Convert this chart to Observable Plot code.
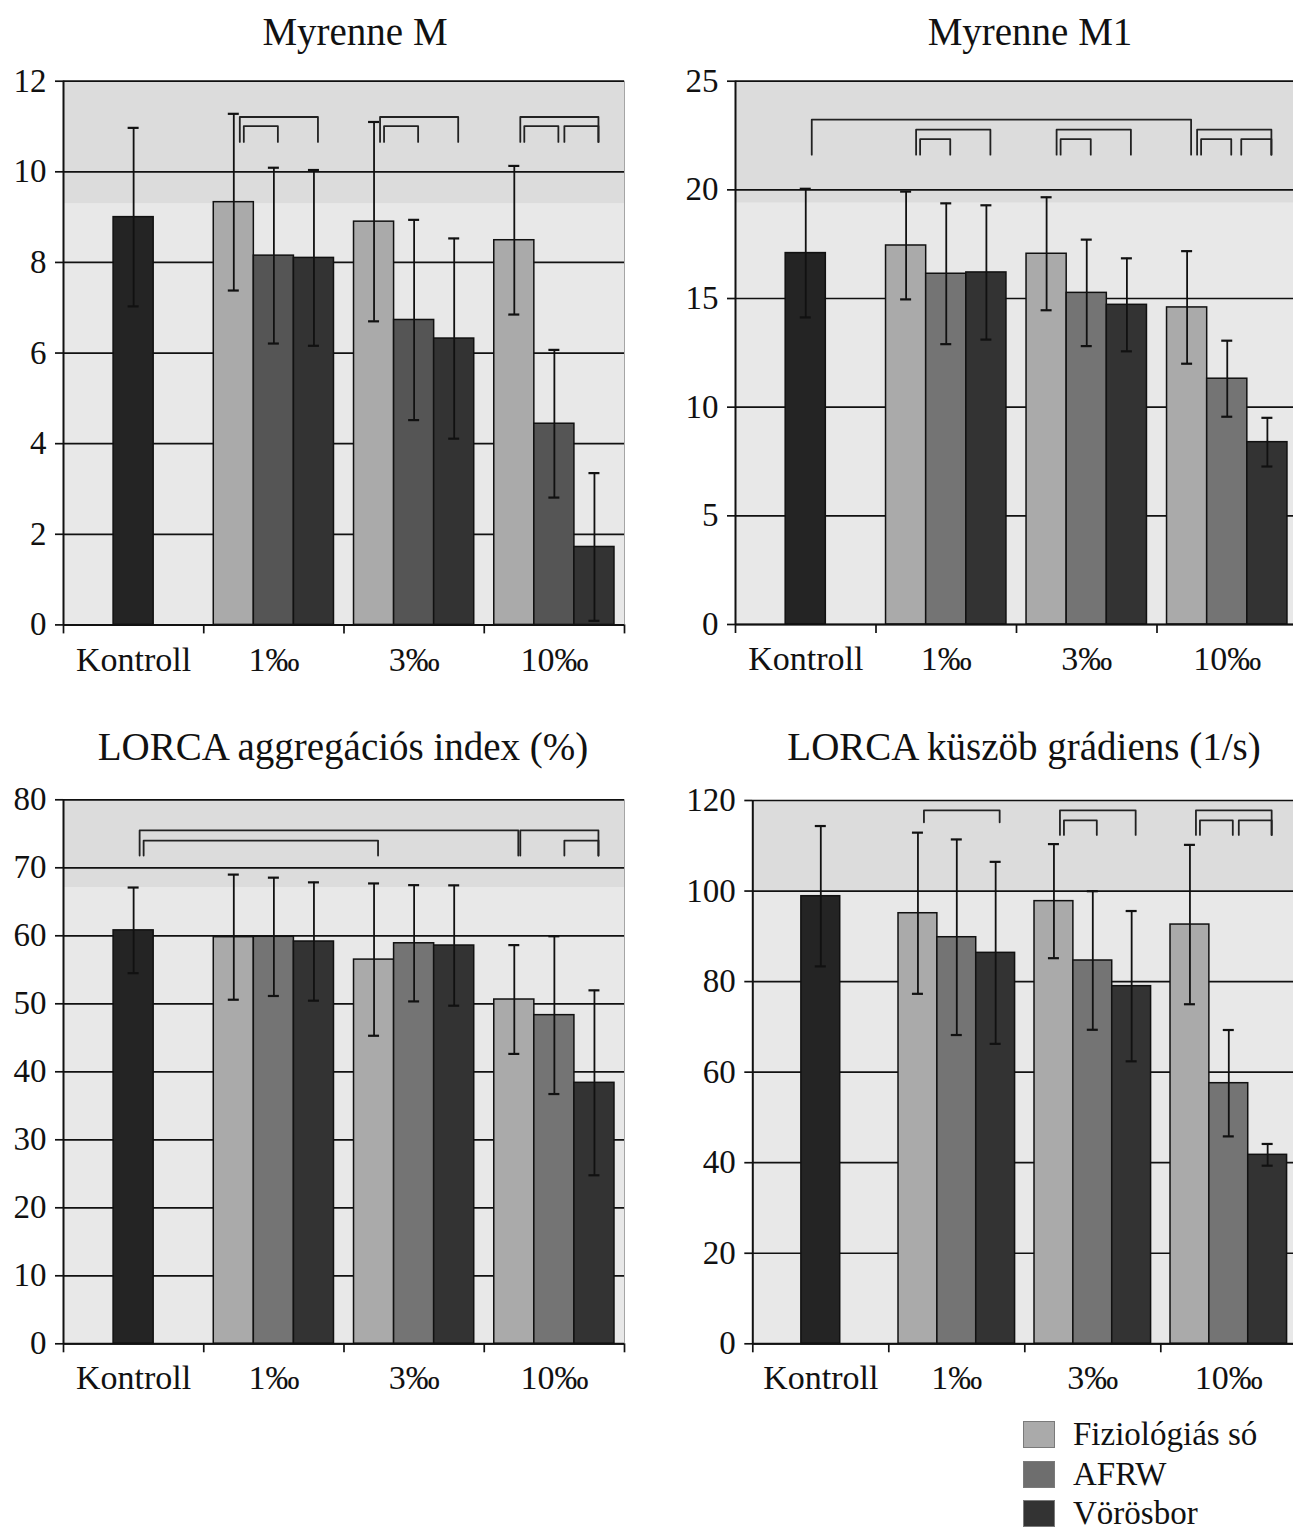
<!DOCTYPE html>
<html>
<head>
<meta charset="utf-8">
<script src="https://cdn.jsdelivr.net/npm/d3@7"></script>
<script src="https://cdn.jsdelivr.net/npm/@observablehq/plot@0.6"></script>
<style>
  html, body { margin: 0; padding: 0; background: #fff; width: 1293px; height: 1532px; overflow: hidden; }
  body { position: relative; font-family: "Liberation Serif", "Times New Roman", serif; color: #111; }
  .panel { position: absolute; }
  .title { position: absolute; font-size: 39px; line-height: 39px; white-space: nowrap; transform: translateX(-50%); }
  .lg-box { position: absolute; width: 30px; height: 25px; border: 1.5px solid #7a7a7a; }
  .lg-text { position: absolute; font-size: 33px; line-height: 26px; white-space: nowrap; }
</style>
</head>
<body>
<script>
// ---------------- data ----------------
const categories = ["Kontroll", "1‰", "3‰", "10‰"];
const seriesNames = ["Fiziológiás só", "AFRW", "Vörösbor"];
const titles = ["Myrenne M", "Myrenne M1", "LORCA aggregációs index (%)", "LORCA küszöb grádiens (1/s)"];

// order of values: Kontroll, 1‰ (Fiz, AFRW, Vörös), 3‰ (Fiz, AFRW, Vörös), 10‰ (Fiz, AFRW, Vörös)
const myrenneM_mean  = [9.0, 9.33, 8.15, 8.1, 8.9, 6.73, 6.32, 8.49, 4.44, 1.72];
const myrenneM_sd    = [1.97, 1.95, 1.94, 1.94, 2.2, 2.21, 2.21, 1.64, 1.63, 1.63];
const myrenneM1_mean = [17.09, 17.44, 16.14, 16.2, 17.06, 15.26, 14.71, 14.59, 11.31, 8.39];
const myrenneM1_sd   = [2.96, 2.48, 3.24, 3.09, 2.6, 2.45, 2.14, 2.59, 1.75, 1.12];
const lorcaAI_mean   = [60.8, 59.8, 59.85, 59.16, 56.5, 58.9, 58.57, 50.63, 48.33, 38.38];
const lorcaAI_sd     = [6.3, 9.2, 8.7, 8.7, 11.2, 8.55, 8.85, 8.0, 11.6, 13.6];
const lorcaGrad_mean = [98.86, 95.1, 89.8, 86.35, 97.77, 84.66, 78.99, 92.6, 57.56, 41.74];
const lorcaGrad_sd   = [15.5, 17.8, 21.6, 20.1, 12.6, 15.3, 16.6, 17.6, 11.75, 2.4];

// y-axis ticks
const myrenneM_ticks  = [0, 2, 4, 6, 8, 10, 12];
const myrenneM1_ticks = [0, 5, 10, 15, 20, 25];
const lorcaAI_ticks   = [0, 10, 20, 30, 40, 50, 60, 70, 80];
const lorcaGrad_ticks = [0, 20, 40, 60, 80, 100, 120];

// significance brackets: [from category, from series, to category, to series, level, (leg end)]
const myrenneM_brackets = [
  ["1‰", "Fiziológiás só", "1‰", "Vörösbor", 0], ["1‰", "Fiziológiás só", "1‰", "AFRW", 1],
  ["3‰", "Fiziológiás só", "3‰", "Vörösbor", 0], ["3‰", "Fiziológiás só", "3‰", "AFRW", 1],
  ["10‰", "Fiziológiás só", "10‰", "Vörösbor", 0], ["10‰", "Fiziológiás só", "10‰", "AFRW", 1], ["10‰", "AFRW", "10‰", "Vörösbor", 1]
];
const myrenneM_levels = [11.21, 11.01], myrenneM_legEnd = 10.66, myrenneM_shade = 9.3;

const myrenneM1_brackets = [
  ["Kontroll", "Kontroll", "10‰", "Fiziológiás só", 0],
  ["1‰", "Fiziológiás só", "1‰", "Vörösbor", 1], ["1‰", "Fiziológiás só", "1‰", "AFRW", 2],
  ["3‰", "Fiziológiás só", "3‰", "Vörösbor", 1], ["3‰", "Fiziológiás só", "3‰", "AFRW", 2],
  ["10‰", "Fiziológiás só", "10‰", "Vörösbor", 1], ["10‰", "Fiziológiás só", "10‰", "AFRW", 2], ["10‰", "AFRW", "10‰", "Vörösbor", 2]
];
const myrenneM1_levels = [23.23, 22.77, 22.33], myrenneM1_legEnd = 21.62, myrenneM1_shade = 19.4;

const lorcaAI_brackets = [
  ["Kontroll", "Kontroll", "10‰", "Fiziológiás só", 0], ["Kontroll", "Kontroll", "3‰", "Fiziológiás só", 1],
  ["10‰", "Fiziológiás só", "10‰", "Vörösbor", 0], ["10‰", "AFRW", "10‰", "Vörösbor", 1]
];
const lorcaAI_levels = [75.5, 74.0], lorcaAI_legEnd = 71.8, lorcaAI_shade = 67.1;

const lorcaGrad_brackets = [
  ["1‰", "Fiziológiás só", "1‰", "Vörösbor", 0, 115.2],
  ["3‰", "Fiziológiás só", "3‰", "Vörösbor", 0], ["3‰", "Fiziológiás só", "3‰", "AFRW", 1],
  ["10‰", "Fiziológiás só", "10‰", "Vörösbor", 0], ["10‰", "Fiziológiás só", "10‰", "AFRW", 1], ["10‰", "AFRW", "10‰", "Vörösbor", 1]
];
const lorcaGrad_levels = [117.8, 115.6], lorcaGrad_legEnd = 112.4, lorcaGrad_shade = 100;

// ---------------- styles / layout ----------------
const colorFiz = "#aaaaaa", colorVor = "#333333", colorKontroll = "#242424";
const groupPad = 1 / 14, barW = 2 / 7; // fraction of a category band

const panels = [
  {title: titles[0], mean: myrenneM_mean, sd: myrenneM_sd, ticks: myrenneM_ticks, brackets: myrenneM_brackets,
   levels: myrenneM_levels, legEnd: myrenneM_legEnd, shade: myrenneM_shade, afrw: "#555555",
   left: 0, top: 60, width: 640, height: 640, ml: 63, mr: 16, mt: 20.7, mb: 75.6, titleX: 355, titleBase: 45},
  {title: titles[1], mean: myrenneM1_mean, sd: myrenneM1_sd, ticks: myrenneM1_ticks, brackets: myrenneM1_brackets,
   levels: myrenneM1_levels, legEnd: myrenneM1_legEnd, shade: myrenneM1_shade, afrw: "#747474",
   left: 640, top: 60, width: 662, height: 640, ml: 95, mr: 5, mt: 20.7, mb: 76, titleX: 1030, titleBase: 45},
  {title: titles[2], mean: lorcaAI_mean, sd: lorcaAI_sd, ticks: lorcaAI_ticks, brackets: lorcaAI_brackets,
   levels: lorcaAI_levels, legEnd: lorcaAI_legEnd, shade: lorcaAI_shade, afrw: "#747474",
   left: 0, top: 780, width: 640, height: 640, ml: 63, mr: 16, mt: 19.3, mb: 76.7, titleX: 343, titleBase: 760},
  {title: titles[3], mean: lorcaGrad_mean, sd: lorcaGrad_sd, ticks: lorcaGrad_ticks, brackets: lorcaGrad_brackets,
   levels: lorcaGrad_levels, legEnd: lorcaGrad_legEnd, shade: lorcaGrad_shade, afrw: "#747474",
   left: 660, top: 780, width: 642, height: 640, ml: 92.3, mr: 5.7, mt: 20, mb: 76.7, titleX: 1024, titleBase: 760}
];

function buildPanel(p) {
  const ymax = p.ticks[p.ticks.length - 1];
  const bandPx = (p.width - p.ml - p.mr) / 4;
  const px = (v) => v / bandPx; // pixels -> x data units
  const colorOf = (s) => s === "Kontroll" ? colorKontroll : s === "AFRW" ? p.afrw : s === "Vörösbor" ? colorVor : colorFiz;

  const rows = p.mean.map((m, i) => {
    const cat = i === 0 ? 0 : Math.floor((i - 1) / 3) + 1;
    const slot = i === 0 ? 1 : (i - 1) % 3;
    const series = i === 0 ? "Kontroll" : seriesNames[slot];
    const x1 = cat + groupPad + slot * barW;
    return {category: categories[cat], series, mean: m, sd: p.sd[i], x1, x2: x1 + barW, xc: x1 + barW / 2};
  });
  const find = (c, s) => rows.find((r) => r.category === c && r.series === s);

  const caps = rows.flatMap((r) => [r.mean - r.sd, r.mean + r.sd].map((y) => ({...r, y: Math.max(0, y)})));

  const bracketPts = p.brackets.flatMap((b, k) => {
    const [c1, s1, c2, s2, level, legEnd] = b;
    const xl = find(c1, s1).xc + px(6 + 4 * level);
    const xr = find(c2, s2).xc + px(4);
    const y = p.levels[level], y0 = legEnd ?? p.legEnd;
    return [{id: k, x: xl, y: y0}, {id: k, x: xl, y}, {id: k, x: xr, y}, {id: k, x: xr, y: y0}];
  });

  return Plot.plot({
    width: p.width, height: p.height,
    marginLeft: p.ml, marginRight: p.mr, marginTop: p.mt, marginBottom: p.mb,
    x: {domain: [0, 4], axis: null},
    y: {domain: [0, ymax], axis: null},
    color: {type: "identity"},
    style: {fontFamily: "'Liberation Serif', 'Times New Roman', serif", background: "transparent", color: "#111", overflow: "visible"},
    marks: [
      Plot.frame({fill: "#e8e8e8"}),
      Plot.rect([p.shade], {x1: () => 0, x2: () => 4, y1: (d) => d, y2: () => ymax, fill: "#dcdcdc"}),
      Plot.ruleY(p.ticks, {stroke: "#111", strokeWidth: 1.7}),
      Plot.ruleX([4], {stroke: "#a5a5a5", strokeWidth: 1}),
      Plot.rect(rows, {x1: "x1", x2: "x2", y1: () => 0, y2: "mean", fill: (d) => colorOf(d.series), stroke: "#111", strokeWidth: 1.5}),
      Plot.ruleX(rows, {x: "xc", y1: (d) => Math.max(0, d.mean - d.sd), y2: (d) => d.mean + d.sd, stroke: "#111", strokeWidth: 1.8}),
      Plot.ruleY(caps, {y: "y", x1: (d) => d.xc - px(5.5), x2: (d) => d.xc + px(5.5), stroke: "#111", strokeWidth: 2.2}),
      Plot.line(bracketPts, {x: "x", y: "y", z: "id", stroke: "#222", strokeWidth: 1.8, curve: "linear"}),
      Plot.ruleX([0], {stroke: "#111", strokeWidth: 2}),
      Plot.ruleY([0], {stroke: "#111", strokeWidth: 2}),
      Plot.axisY(p.ticks, {tickSize: 8, tickPadding: 9, fontSize: 33, color: "#111", strokeWidth: 1.7, label: null}),
      Plot.axisX([0, 1, 2, 3, 4], {tickSize: 9, tickFormat: () => "", color: "#111", strokeWidth: 1.7, label: null}),
      Plot.text(categories, {x: (d, i) => i + 0.5, text: (d) => d, frameAnchor: "bottom", lineAnchor: "bottom", dy: 45.6, fontSize: 34, fill: "#111"})
    ]
  });
}

for (const p of panels) {
  const div = document.createElement("div");
  div.className = "panel";
  div.style.left = p.left + "px";
  div.style.top = p.top + "px";
  div.style.width = p.width + "px";
  div.style.height = p.height + "px";
  div.appendChild(buildPanel(p));
  document.body.appendChild(div);

  const t = document.createElement("div");
  t.className = "title";
  t.textContent = p.title;
  t.style.left = p.titleX + "px";
  t.style.top = (p.titleBase - 32.7) + "px";
  document.body.appendChild(t);
}

// legend
const legendColors = [colorFiz, "#6e6e6e", colorVor];
const legendTops = [1421, 1461, 1500];
seriesNames.forEach((s, i) => {
  const box = document.createElement("div");
  box.className = "lg-box";
  box.style.left = "1023px";
  box.style.top = legendTops[i] + "px";
  box.style.background = legendColors[i];
  document.body.appendChild(box);
  const tx = document.createElement("div");
  tx.className = "lg-text";
  tx.textContent = s;
  tx.style.left = "1073px";
  tx.style.top = (legendTops[i] - 0.5) + "px";
  document.body.appendChild(tx);
});
</script>
</body>
</html>
